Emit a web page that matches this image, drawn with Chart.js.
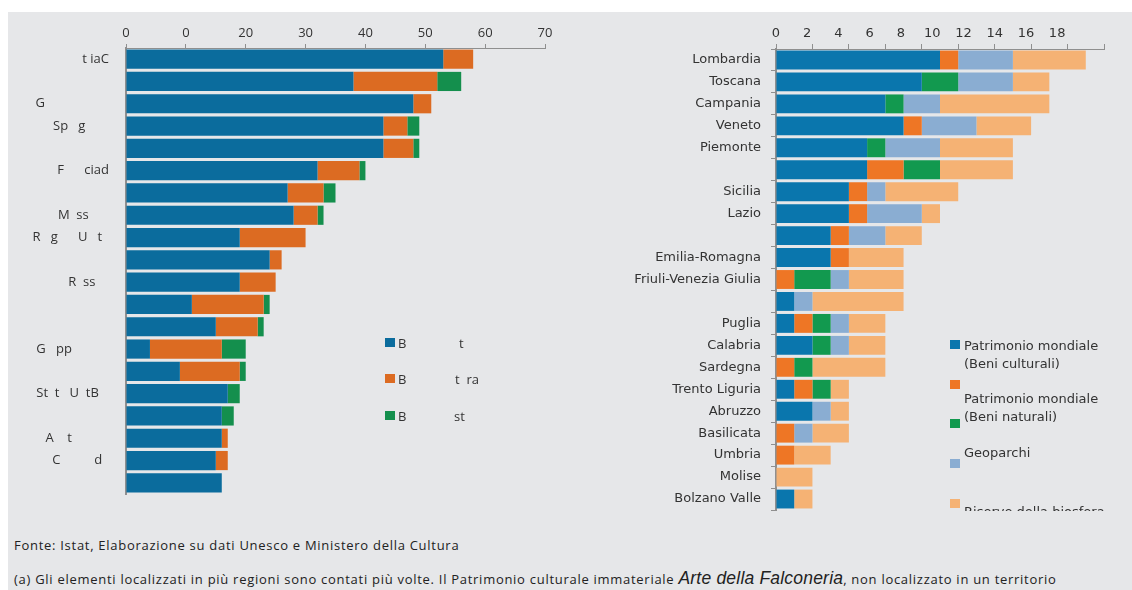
<!DOCTYPE html>
<html><head><meta charset="utf-8">
<script src="https://cdn.jsdelivr.net/npm/chart.js@4.4.1/dist/chart.umd.min.js"></script>
<style>
html,body{margin:0;padding:0;background:#fff;width:1132px;height:590px;overflow:hidden;}
#bg{position:absolute;left:8px;top:12px;width:1124px;height:578px;background:#e6e7e9;}
#leftWrap{position:absolute;left:0;top:12px;width:560px;height:490px;}
#rightWrap{position:absolute;left:560px;top:12px;width:572px;height:499px;overflow:hidden;}
canvas{display:block;}
.lg{position:absolute;font-family:"Open Sans",sans-serif;font-size:13px;color:#333;white-space:pre;line-height:16px;}
.rg{position:absolute;font-family:"DejaVu Sans",sans-serif;font-size:13px;color:#333;white-space:pre;line-height:18px;}
.mk{position:absolute;width:10px;height:9px;}
.ft{position:absolute;left:14px;font-family:"Open Sans",sans-serif;font-size:13px;letter-spacing:0.72px;color:#222;white-space:pre;}
</style></head>
<body>
<div id="bg"></div>
<div id="leftWrap"><canvas id="left" width="560" height="490"></canvas></div>
<div id="rightWrap"><canvas id="right" width="572" height="510"></canvas>
  <div class="mk" style="left:390px;top:328px;background:#0a76ad"></div>
  <div class="rg" style="left:404px;top:325px">Patrimonio mondiale<br>(Beni culturali)</div>
  <div class="mk" style="left:390px;top:368px;background:#ee7625"></div>
  <div class="rg" style="left:404px;top:378px">Patrimonio mondiale<br>(Beni naturali)</div>
  <div class="mk" style="left:390px;top:407px;background:#12994f"></div>
  <div class="rg" style="left:404px;top:432px">Geoparchi</div>
  <div class="mk" style="left:390px;top:447px;background:#8aadd2"></div>
  <div class="mk" style="left:390px;top:487px;background:#f5b274"></div>
  <div class="rg" style="left:404px;top:491px">Riserve della biosfera</div>
</div>
<div class="mk" style="left:385px;top:338px;background:#0b6c9d"></div>
<div class="lg" style="left:398px;top:335px">B</div><div class="lg" style="left:459px;top:335px">t</div>
<div class="mk" style="left:385px;top:374px;background:#dc6b22"></div>
<div class="lg" style="left:398px;top:371px">B</div><div class="lg" style="left:455px;top:371px">t  ra</div>
<div class="mk" style="left:385px;top:411px;background:#148f4d"></div>
<div class="lg" style="left:398px;top:408px">B</div><div class="lg" style="left:454px;top:408px">st</div>
<div class="ft" style="top:536px">Fonte: Istat, Elaborazione su dati Unesco e Ministero della Cultura</div>
<div class="ft" style="top:568px">(a) Gli elementi localizzati in più regioni sono contati più volte. Il Patrimonio culturale immateriale <i style="font-family:'Liberation Sans',sans-serif;font-size:17.5px;letter-spacing:0.2px">Arte della Falconeria</i>, non localizzato in un territorio</div>
<script>
// ---- Left chart data ----
const leftCategories = ["t iaC","","G                   ","Sp   g       ","","F      ciad","","M  ss      ","R   g      U   t  ","","R  ss    ","","","G   pp           ","","St  t   U  tB   ","","A    t           ","C          d  ",""];
const leftBlue   = [53,38,48,43,43,32,27,28,19,24,19,11,15,4,9,17,16,16,15,16];
const leftOrange = [5,14,3,4,5,7,6,4,11,2,6,12,7,12,10,0,0,1,2,0];
const leftGreen  = [0,4,0,2,1,1,2,1,0,0,0,1,1,4,1,2,2,0,0,0];
const leftTickLabels = ["0","0","20","30","40","50","60","70"];

// ---- Right chart data ----
const rightCategories = ["Lombardia","Toscana","Campania","Veneto","Piemonte","","Sicilia","Lazio","","Emilia-Romagna","Friuli-Venezia Giulia","","Puglia","Calabria","Sardegna","Trento Liguria","Abruzzo","Basilicata","Umbria","Molise","Bolzano Valle"];
const rightCulturali = [9,8,6,7,5,5,4,4,3,3,0,1,1,2,0,1,2,0,0,0,1];
const rightNaturali  = [1,0,0,1,0,2,1,1,1,1,1,0,1,0,1,1,0,1,1,0,0];
const rightGreen     = [0,2,1,0,1,2,0,0,0,0,2,0,1,1,1,1,0,0,0,0,0];
const rightGeoparchi = [3,3,2,3,3,0,1,3,2,0,1,1,1,1,0,0,1,1,0,0,0];
const rightBiosfera  = [4,2,6,3,4,4,4,1,2,3,3,5,2,2,4,1,1,2,2,2,1];
const rightTickLabels = ["0","2","4","6","8","10","12","14","16","18"];

Chart.defaults.animation = false;
const axisGray = '#8f8f8f';
const noPadV = s => { s.paddingTop = 0; s.paddingBottom = 0; };
const noPadH = s => { s.paddingLeft = 0; s.paddingRight = 0; };

new Chart(document.getElementById('left'), {
  type: 'bar',
  data: {
    labels: leftCategories,
    datasets: [
      {label:'B t', data:leftBlue, backgroundColor:'#0b6c9d'},
      {label:'B t ra', data:leftOrange, backgroundColor:'#dc6b22'},
      {label:'B st', data:leftGreen, backgroundColor:'#148f4d'}
    ]
  },
  options: {
    indexAxis: 'y', responsive: false,
    layout: {padding: {left:0, right:15, top:0, bottom:8}},
    barPercentage: 0.86, categoryPercentage: 1,
    plugins: {legend:{display:false}, tooltip:{enabled:false}},
    scales: {
      x: {
        stacked: true, position: 'top', min: 0, max: 70,
        ticks: {stepSize: 10, padding: 3, color:'#333', font:{family:'Open Sans', size:13},
          callback: (v, i) => leftTickLabels[i]},
        grid: {drawOnChartArea:false, tickLength:4, color:axisGray},
        border: {color:axisGray, width:1},
        afterFit: s => { s.height = 36; noPadH(s); }
      },
      y: {
        stacked: true,
        ticks: {padding: 9, color:'#333', font:{family:'Open Sans', size:13}, autoSkip:false},
        grid: {display:false},
        border: {color:axisGray, width:2},
        afterFit: s => { s.width = 126; noPadV(s); }
      }
    }
  }
});

new Chart(document.getElementById('right'), {
  type: 'bar',
  data: {
    labels: rightCategories,
    datasets: [
      {label:'Patrimonio mondiale (Beni culturali)', data:rightCulturali, backgroundColor:'#0a76ad', xAxisID:'x'},
      {label:'Patrimonio mondiale (Beni naturali)', data:rightNaturali, backgroundColor:'#ee7625', xAxisID:'x'},
      {label:'', data:rightGreen, backgroundColor:'#12994f', xAxisID:'x'},
      {label:'Geoparchi', data:rightGeoparchi, backgroundColor:'#8aadd2', xAxisID:'x'},
      {label:'Riserve della biosfera', data:rightBiosfera, backgroundColor:'#f5b274', xAxisID:'x'}
    ]
  },
  options: {
    indexAxis: 'y', responsive: false,
    layout: {padding: {left:0, right:28, top:0, bottom:12}},
    barPercentage: 0.86, categoryPercentage: 1,
    plugins: {legend:{display:false}, tooltip:{enabled:false}},
    scales: {
      x: {
        stacked: true, position: 'top', min: 0, max: 18, weight: 0,
        ticks: {display:false, stepSize: 2},
        grid: {drawOnChartArea:false, tickLength:5, color:axisGray},
        border: {color:axisGray, width:1},
        afterFit: s => { s.height = 6; noPadH(s); }
      },
      x2: {
        type: 'linear', position: 'top', min: 0, max: 21, weight: 1,
        ticks: {stepSize: 2, padding: 2, color:'#333', font:{family:'DejaVu Sans', size:13},
          callback: (v, i) => rightTickLabels[i] !== undefined ? rightTickLabels[i] : ''},
        grid: {display:false, drawTicks:false, tickLength:0}, border: {display:false},
        afterFit: s => { s.height = 31; noPadH(s); }
      },
      y: {
        stacked: true,
        ticks: {padding: 10, color:'#333', font:{family:'DejaVu Sans', size:13}, autoSkip:false},
        grid: {drawOnChartArea:false, tickLength:5, color:axisGray},
        border: {color:axisGray, width:2},
        afterFit: s => { s.width = 216; noPadV(s); }
      }
    }
  }
});
</script>
</body></html>
